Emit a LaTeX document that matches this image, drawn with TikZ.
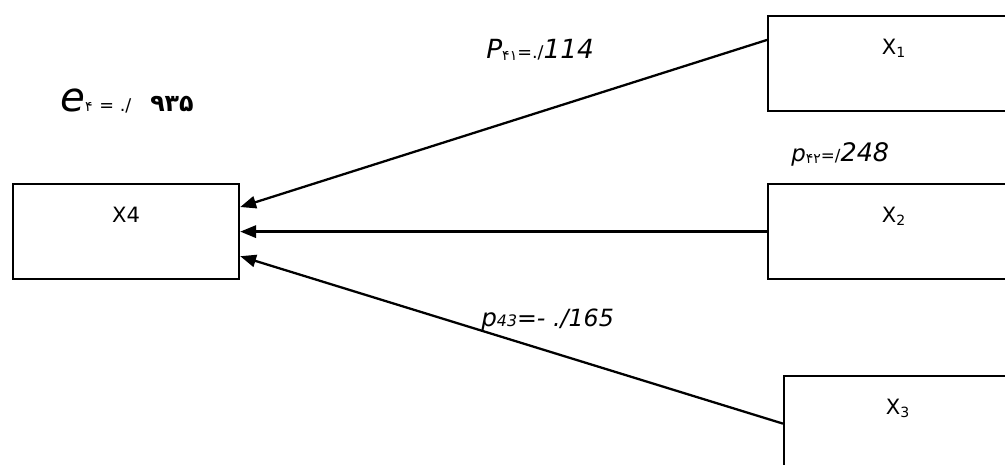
\documentclass[tikz,border=0pt]{standalone}
\usepackage{fontspec}
\setmainfont{DejaVu Sans}
\usetikzlibrary{arrows.meta}
\newcommand{\fsz}[1]{\fontsize{#1}{#1}\selectfont}

\begin{document}
\begin{tikzpicture}[
  x=0.02cm, y=-0.02cm,
  every node/.style={font=\fsz{12}},
  box/.style={draw, line width=1.3pt, inner sep=0pt, anchor=north west,
              text height=0.76cm, text depth=1.14cm},
  lbl/.style={anchor=base west, inner sep=0pt},
  arr/.style={-{Triangle[length=9pt,width=7pt]}, line width=1.3pt}
]
\useasboundingbox (0,0) rectangle (1005,465);

%% boxes
\node[box, minimum width=4.52cm] (x4) at (12,183)  {X4};
\node[box, minimum width=5.04cm] (x1) at (767,15)  {X\textsubscript{1}};
\node[box, minimum width=5.04cm] (x2) at (767,183) {X\textsubscript{2}};
\node[box, minimum width=4.56cm] (x3) at (783,375) {X\textsubscript{3}};

%% paths
\draw[arr] ([yshift=-14.2pt]x1.north west) -- ([yshift=14pt]x4.east);
\foreach \src/\dy in {x2/0, x3/-14}
  \draw[arr] (\src.west) -- ([yshift=\dy pt]x4.east);

%% coefficients
\node[lbl] (e4)  at (60,112)  {{\fsz{23}\itshape e}{\fsz{8}۴} {\fsz{10}= ./}\hspace{0.38cm}{\fsz{13.5}\bfseries ۹۳۵}};
\node[lbl] (p41) at (486,59)  {{\fsz{15}\itshape P}\raisebox{-1pt}{\fsz{8}۴۱}{\fsz{10}=./}{\fsz{15}\itshape 114}};
\node[lbl] (p42) at (791,162) {{\fsz{13}\itshape p}\raisebox{-1pt}{\fsz{8}۴۲}{\fsz{9.5}=/}{\fsz{14.5}\itshape 248}};
\node[lbl] (p43) at (481,327) {{\fsz{14}\itshape p}{\fsz{9}\itshape 43}{\fsz{13.5}\itshape =- ./165}};
\end{tikzpicture}
\end{document}
